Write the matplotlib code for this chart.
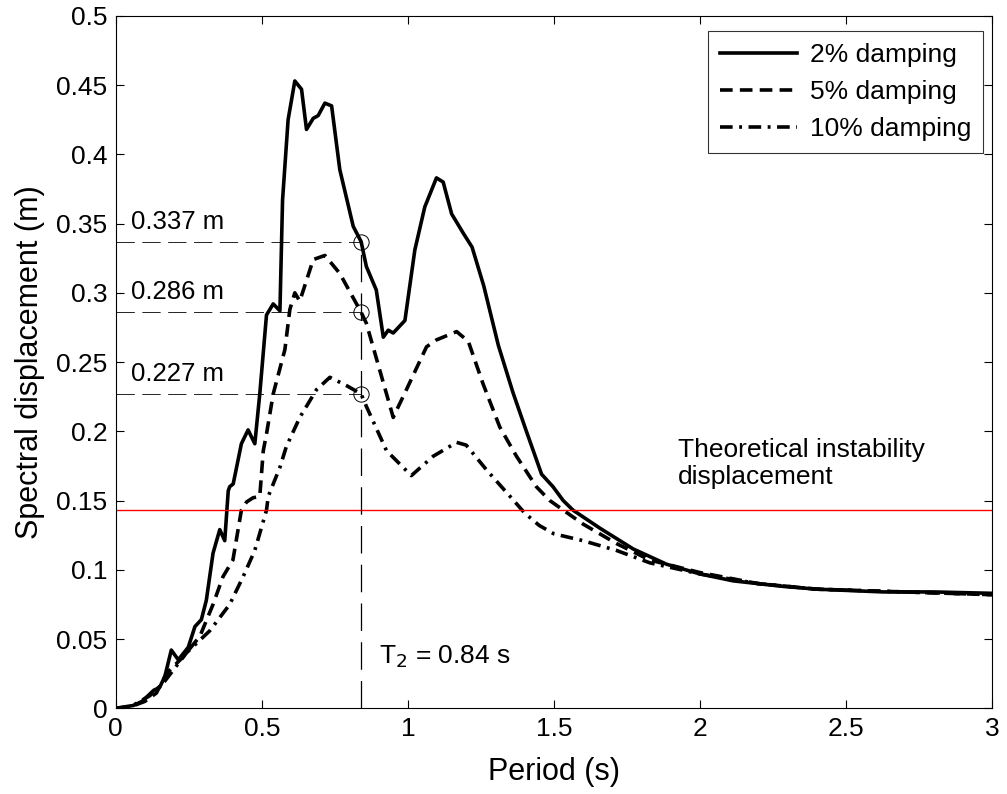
import matplotlib.pyplot as plt

plt.rcParams['font.family'] = ['Liberation Sans', 'DejaVu Sans']

# period (s) and spectral displacement (m)
t_2 = [0.0, 0.03, 0.06, 0.09, 0.13, 0.15, 0.168, 0.19, 0.214, 0.248, 0.271, 0.293,
       0.31, 0.333, 0.356, 0.373, 0.385, 0.39, 0.402, 0.43, 0.453, 0.476, 0.493, 0.516,
       0.539, 0.562, 0.571, 0.59, 0.613, 0.636, 0.653, 0.676, 0.693, 0.716, 0.739,
       0.767, 0.813, 0.84, 0.858, 0.892, 0.916, 0.933, 0.95, 0.99, 1.024, 1.058, 1.098,
       1.121, 1.15, 1.19, 1.22, 1.26, 1.31, 1.36, 1.406, 1.458, 1.497, 1.532, 1.566,
       1.658, 1.772, 1.886, 2.0, 2.114, 2.285, 2.4, 2.628, 2.8, 3.0]
sd_2 = [0.0, 0.001, 0.002, 0.005, 0.013, 0.015, 0.023, 0.042, 0.035, 0.044, 0.059, 0.064,
        0.078, 0.112, 0.129, 0.121, 0.157, 0.16, 0.162, 0.191, 0.201, 0.191, 0.227, 0.284,
        0.292, 0.287, 0.367, 0.425, 0.453, 0.447, 0.418, 0.426, 0.428, 0.437, 0.435,
        0.389, 0.348, 0.337, 0.319, 0.302, 0.268, 0.273, 0.271, 0.28, 0.331, 0.362, 0.383,
        0.38, 0.357, 0.343, 0.333, 0.305, 0.262, 0.228, 0.2, 0.169, 0.16, 0.15, 0.143,
        0.13, 0.115, 0.104, 0.097, 0.092, 0.088, 0.086, 0.084, 0.084, 0.083]

t_5 = [0.0, 0.05, 0.1, 0.139, 0.173, 0.23, 0.288, 0.333, 0.367, 0.401, 0.43, 0.448,
       0.47, 0.493, 0.505, 0.516, 0.539, 0.579, 0.596, 0.613, 0.63, 0.676, 0.716, 0.767,
       0.84, 0.858, 0.95, 0.961, 0.995, 1.064, 1.098, 1.121, 1.167, 1.207, 1.258, 1.315,
       1.372, 1.44, 1.486, 1.6, 1.714, 1.829, 2.0, 2.2, 2.4, 2.7, 3.0]
sd_5 = [0.0, 0.001, 0.005, 0.011, 0.025, 0.037, 0.052, 0.075, 0.095, 0.107, 0.143, 0.149,
        0.152, 0.153, 0.186, 0.198, 0.227, 0.259, 0.288, 0.30, 0.294, 0.324, 0.327, 0.314,
        0.286, 0.278, 0.21, 0.215, 0.23, 0.261, 0.266, 0.268, 0.272, 0.265, 0.234, 0.203,
        0.182, 0.16, 0.15, 0.133, 0.119, 0.107, 0.098, 0.09, 0.086, 0.084, 0.082]

t_10 = [0.0, 0.05, 0.116, 0.162, 0.242, 0.322, 0.39, 0.436, 0.476, 0.516, 0.522, 0.562,
        0.584, 0.63, 0.687, 0.733, 0.79, 0.84, 0.858, 0.927, 1.012, 1.087, 1.167, 1.2,
        1.27, 1.35, 1.4, 1.45, 1.5, 1.6, 1.714, 1.829, 2.0, 2.2, 2.4, 2.7, 3.0]
sd_10 = [0.0, 0.001, 0.009, 0.018, 0.04, 0.056, 0.075, 0.095, 0.114, 0.143, 0.153, 0.174,
         0.189, 0.21, 0.23, 0.239, 0.233, 0.227, 0.218, 0.186, 0.168, 0.182, 0.192, 0.19,
         0.172, 0.153, 0.141, 0.132, 0.126, 0.121, 0.114, 0.105, 0.097, 0.09, 0.086, 0.084, 0.082]

T2 = 0.84
sd_at_T2 = [0.337, 0.286, 0.227]
sd_limit = 0.143

fig = plt.figure(figsize=(10.07, 7.94), dpi=100)
ax = fig.add_axes([0.115, 0.108, 0.870, 0.872])

ax.plot(t_2, sd_2, color='black', lw=2.6, ls='-', label='2% damping')
ax.plot(t_5, sd_5, color='black', lw=2.6, ls=(0, (3.5, 2)), label='5% damping')
ax.plot(t_10, sd_10, color='black', lw=2.6, ls=(0, (3.5, 1.8, 0.8, 1.8)), label='10% damping')

ax.axhline(sd_limit, color='red', lw=1)

for v in sd_at_T2:
    ax.plot([0, T2], [v, v], color='black', lw=0.6, dashes=(22, 9))
    ax.plot(T2, v, 'o', ms=11, mfc='none', mec='black', mew=0.7)
    ax.text(0.052, v + 0.0145, f'{v:.3f} m', fontsize=18.5, va='center')
ax.plot([T2, T2], [0, max(sd_at_T2)], color='black', lw=0.9, dashes=(22, 9))

ax.text(0.9, 0.037, r'T$_2$ = 0.84 s', fontsize=19, va='center')
ax.text(1.925, 0.177, 'Theoretical instability\ndisplacement', fontsize=19,
        va='center', linespacing=1.15)

ax.set_xlim(0, 3)
ax.set_ylim(0, 0.5)
ax.set_xticks([0, 0.5, 1, 1.5, 2, 2.5, 3])
ax.set_xticklabels(['0', '0.5', '1', '1.5', '2', '2.5', '3'])
ax.set_yticks([0, 0.05, 0.1, 0.15, 0.2, 0.25, 0.3, 0.35, 0.4, 0.45, 0.5])
ax.set_yticklabels(['0', '0.05', '0.1', '0.15', '0.2', '0.25', '0.3', '0.35', '0.4', '0.45', '0.5'])
ax.tick_params(direction='in', top=True, right=True, labelsize=19, length=6, pad=6)
for s in ax.spines.values():
    s.set_linewidth(0.8)

ax.set_xlabel('Period (s)', fontsize=22, labelpad=12)
ax.set_ylabel('Spectral displacement (m)', fontsize=22, labelpad=8)

leg = ax.legend(loc='upper right', bbox_to_anchor=(0.99, 0.978), borderaxespad=0,
                fontsize=19, frameon=True, fancybox=False, edgecolor='black',
                handlelength=2.9, borderpad=0.45, labelspacing=0.5, handletextpad=0.5)
leg.get_frame().set_linewidth(0.8)

fig.savefig('out.png', dpi=100)
